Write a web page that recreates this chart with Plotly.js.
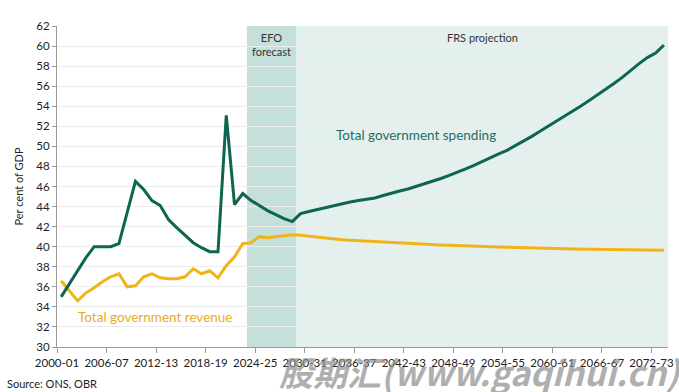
<!DOCTYPE html>
<html>
<head>
<meta charset="utf-8">
<script src="https://cdn.plot.ly/plotly-3.0.1.min.js"></script>
<style>html,body{margin:0;padding:0;background:#fff;}#chart{width:679px;height:392px;}</style>
</head>
<body>
<div id="chart"></div>
<script>
// Fiscal years: start year of each year, 2000-01 ... 2073-74
const firstYear = 2000;
const lastYear = 2073;
const startYears = [];
for (let y = firstYear; y <= lastYear; y++) startYears.push(y);
const fiscalLabels = startYears.map(y => y + "-" + String((y + 1) % 100).padStart(2, "0"));

// Total government spending, per cent of GDP
const spending = [
  35.0, 36.3, 37.6, 38.9, 40.0, 40.0, 40.0, 40.3, 43.4, 46.5,
  45.7, 44.6, 44.1, 42.7, 41.9, 41.1, 40.4, 39.9, 39.5, 39.5,
  53.1, 44.2, 45.3, 44.6, 44.1, 43.6, 43.2, 42.8, 42.5, 43.3,
  43.5, 43.7, 43.9, 44.05, 44.25, 44.45, 44.6, 44.75, 44.85, 45.1,
  45.35, 45.55, 45.75, 46.0, 46.3, 46.55, 46.8, 47.1, 47.4, 47.75,
  48.1, 48.5, 48.9, 49.25, 49.6, 50.05, 50.5, 51.0, 51.5, 52.0,
  52.5, 53.0, 53.5, 54.05, 54.6, 55.15, 55.7, 56.3, 56.9, 57.6,
  58.25, 58.85, 59.3, 60.1
];
// Total government revenue, per cent of GDP
const revenue = [
  36.6, 35.6, 34.6, 35.4, 35.9, 36.5, 37.0, 37.3, 36.0, 36.1,
  37.0, 37.3, 36.9, 36.8, 36.8, 37.0, 37.8, 37.3, 37.6, 36.9,
  38.1, 39.0, 40.3, 40.4, 41.0, 40.9, 41.0, 41.1, 41.2, 41.15,
  41.05, 40.95, 40.85, 40.75, 40.7, 40.65, 40.6, 40.55, 40.5, 40.45,
  40.4, 40.35, 40.3, 40.27, 40.24, 40.2, 40.17, 40.14, 40.1, 40.07,
  40.04, 40.01, 39.98, 39.96, 39.94, 39.91, 39.89, 39.87, 39.85, 39.83,
  39.81, 39.8, 39.78, 39.77, 39.75, 39.74, 39.73, 39.72, 39.71, 39.7,
  39.68, 39.67, 39.65, 39.64
];
// Tick labels on the x axis (every sixth year)
const tickYears = [2000, 2006, 2012, 2018, 2024, 2030, 2036, 2042, 2048, 2054, 2060, 2066, 2072];
const tickLabels = tickYears.map(y => fiscalLabels[y - firstYear]);
// Periods
const efoStart = 2023, efoEnd = 2028;      // EFO forecast 2023-24 .. 2028-29
const frsStart = 2029, frsEnd = 2073;      // FRS projection 2029-30 .. 2073-74

const fontFam = "Lato, 'Open Sans', sans-serif";
const green = "#0d6650";
const yellow = "#f0b418";

const traces = [
  {x: startYears, y: revenue, type: "scatter", mode: "lines", name: "Total government revenue",
   line: {color: yellow, width: 3}, text: fiscalLabels, hoverinfo: "text+y"},
  {x: startYears, y: spending, type: "scatter", mode: "lines", name: "Total government spending",
   line: {color: green, width: 3}, text: fiscalLabels, hoverinfo: "text+y"}
];

const layout = {
  width: 679, height: 392,
  margin: {l: 57, r: 11, t: 26, b: 45},
  paper_bgcolor: "#ffffff", plot_bgcolor: "#ffffff",
  showlegend: false,
  font: {family: fontFam, size: 11, color: "#222"},
  xaxis: {
    range: [firstYear - 0.5, lastYear + 0.5],
    tickvals: tickYears.map(y => y - 0.5),
    ticktext: tickLabels,
    tickmode: "array",
    showgrid: false, zeroline: false,
    showline: true, linecolor: "#9a9a9a", linewidth: 1,
    ticks: "outside", ticklen: 5, tickcolor: "#9a9a9a",
    tickfont: {family: fontFam, size: 11.5, color: "#222"},
    layer: "above traces"
  },
  yaxis: {
    range: [30, 62], dtick: 2, tick0: 30,
    showgrid: true, gridcolor: "#ececec", gridwidth: 1,
    zeroline: false, showline: true, linecolor: "#9a9a9a", linewidth: 1,
    ticks: "outside", ticklen: 4, tickcolor: "#9a9a9a",
    tickfont: {family: fontFam, size: 11.5, color: "#222"},
    title: {text: "Per cent of GDP", font: {family: fontFam, size: 11, color: "#222"}, standoff: 10},
    layer: "above traces"
  },
  shapes: [
    {type: "rect", xref: "x", yref: "paper", x0: efoStart - 0.5, x1: efoEnd + 0.5, y0: 0, y1: 1,
     fillcolor: "#c5dfda", line: {width: 0}, layer: "below"},
    {type: "rect", xref: "x", yref: "paper", x0: frsStart - 0.5, x1: frsEnd + 0.5, y0: 0, y1: 1,
     fillcolor: "#e4f0ee", line: {width: 0}, layer: "below"}
  ],
  annotations: [
    {xref: "x", yref: "paper", x: (efoStart + efoEnd) / 2, y: 0.99, yanchor: "top",
     text: "EFO<br>forecast", showarrow: false, align: "center",
     font: {family: fontFam, size: 11, color: "#333"}},
    {xref: "x", yref: "paper", x: 2051, y: 0.99, yanchor: "top",
     text: "FRS projection", showarrow: false,
     font: {family: fontFam, size: 11, color: "#333"}},
    {xref: "x", yref: "y", x: 2033, y: 51.1, xanchor: "left",
     text: "Total government spending", showarrow: false,
     font: {family: fontFam, size: 13.5, color: "#1f6e5e"}},
    {xref: "x", yref: "y", x: 2001.8, y: 33.0, xanchor: "left",
     text: "Total government revenue", showarrow: false,
     font: {family: fontFam, size: 13.5, color: "#e6ac1e"}},
    {xref: "paper", yref: "paper", x: -0.085, y: -0.088, xanchor: "left", yanchor: "top",
     text: "Source: ONS, OBR", showarrow: false,
     font: {family: fontFam, size: 11, color: "#222"}},
    {xref: "paper", yref: "paper", x: 1.025, y: 0.005, xanchor: "right", yanchor: "top",
     text: "<b><i>股期汇(www.gaqihui.cn)</i></b>", showarrow: false,
     font: {family: "'Noto Sans CJK SC', sans-serif", size: 34, color: "rgba(140,140,140,0.7)"}}
  ]
};

Plotly.newPlot("chart", traces, layout, {displayModeBar: false, staticPlot: true});
</script>
</body>
</html>
